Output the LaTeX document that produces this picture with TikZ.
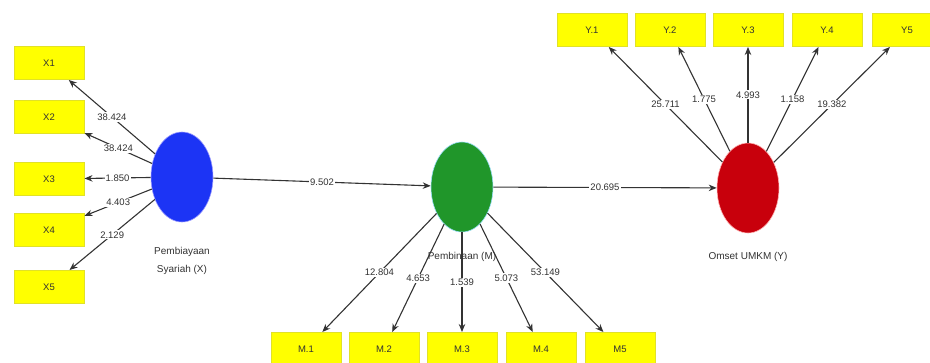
\documentclass[tikz,border=0pt]{standalone}
\usepackage{fontspec}
\setmainfont{Liberation Sans}
\usetikzlibrary{arrows.meta,shapes.geometric}
\definecolor{boxfill}{RGB}{255,255,0}
\definecolor{boxline}{RGB}{225,225,40}
\definecolor{latblue}{RGB}{28,52,245}
\definecolor{latgreen}{RGB}{32,150,42}
\definecolor{latred}{RGB}{200,0,12}
\definecolor{inktext}{RGB}{50,50,50}
\tikzset{
  indicator/.style={draw=boxline, line width=1pt, fill=boxfill, minimum width=70pt,
    minimum height=33pt, inner sep=0pt, font=\fontsize{9.5}{10}\selectfont, text=inktext},
  latent/.style={ellipse, minimum width=62pt, minimum height=90pt, inner sep=0pt, line width=0.6pt},
  link/.style={draw=black!80, line width=1.1pt, -{Stealth[length=8pt,width=6.5pt]}},
  coef/.style={fill=white, inner sep=1.2pt, font=\fontsize{9.5}{10}\selectfont, text=inktext},
  latname/.style={font=\fontsize{10}{18}\selectfont, text=inktext, align=center},
}
\begin{document}
\begin{tikzpicture}[x=1pt, y=-1pt]
\useasboundingbox (0,0) rectangle (930,362);
\clip (0,0) rectangle (930,362);

% latent variables
\node[latent, fill=latblue, draw=blue!40] (B) at (182,177) {};
\node[latent, fill=latgreen, draw=cyan!40] (M) at (462,187) {};
\node[latent, fill=latred, draw=red!30] (Y) at (748,188) {};

% indicators of Pembiayaan Syariah
\node[indicator] (X1) at (49,63) {X1};
\node[indicator] (X2) at (49,117) {X2};
\node[indicator] (X3) at (49,179) {X3};
\node[indicator] (X4) at (49,230) {X4};
\node[indicator] (X5) at (49,287) {X5};

% indicators of Pembinaan
\node[indicator] (M1) at (306,349) {M.1};
\node[indicator] (M2) at (384,349) {M.2};
\node[indicator] (M3) at (462,349) {M.3};
\node[indicator] (M4) at (541,349) {M.4};
\node[indicator] (M5) at (620,349) {M5};

% indicators of Omset UMKM
\node[indicator] (Y1) at (592,30) {Y.1};
\node[indicator] (Y2) at (670,30) {Y.2};
\node[indicator] (Y3) at (748,30) {Y.3};
\node[indicator] (Y4) at (827,30) {Y.4};
\node[indicator] (Y5) at (907,30) {Y5};

% outer loadings of X
\draw[link] (B) -- node[coef] {38.424} (X1);
\draw[link] (B) -- node[coef] {38.424} (X2);
\draw[link] (B) -- node[coef] {1.850} (X3);
\draw[link] (B) -- node[coef] {4.403} (X4);
\draw[link] (B) -- node[coef] {2.129} (X5);

% outer loadings of M
\draw[link] (M) -- node[coef] {12.804} (M1);
\draw[link] (M) -- node[coef] {4.653} (M2);
\draw[link] (M) -- node[coef] {1.539} (M3);
\draw[link] (M) -- node[coef] {5.073} (M4);
\draw[link] (M) -- node[coef] {53.149} (M5);

% outer loadings of Y
\draw[link] (Y) -- node[coef] {25.711} (Y1);
\draw[link] (Y) -- node[coef] {1.775} (Y2);
\draw[link] (Y) -- node[coef] {4.993} (Y3);
\draw[link] (Y) -- node[coef] {1.158} (Y4);
\draw[link] (Y) -- node[coef] {19.382} (Y5);

% structural paths
\draw[link] (B) -- node[coef] {9.502} (M);
\draw[link] (M) -- node[coef] {20.695} (Y);

% latent variable names
\node[latname] (Bname) at (182,261) {Pembiayaan\\Syariah (X)};
\node[latname] (Mname) at (462,257) {Pembinaan (M)};
\node[latname] (Yname) at (748,257) {Omset UMKM (Y)};
\end{tikzpicture}
\end{document}
